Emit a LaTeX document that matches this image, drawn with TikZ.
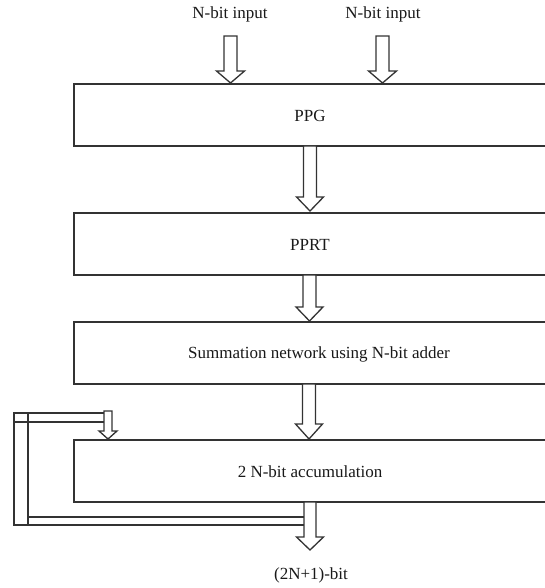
\documentclass[tikz,border=0pt]{standalone}
\usepackage{fontspec}
\setmainfont{Liberation Serif}
\usetikzlibrary{calc}
\definecolor{ink}{HTML}{333333}
\tikzset{
  ln/.style={draw=ink, line width=1.3pt, line join=miter},
  box/.style={ln, rectangle, inner sep=0pt, minimum width=473pt, minimum height=62pt},
  lbl/.style={text=black!90, inner sep=0pt, font=\fontsize{17}{20}\selectfont},
  barrow/.style={ln, fill=white},
}
% block arrow: #1 top coordinate, #2 tip coordinate, #3 shaft half width, #4 head half width, #5 head length
\newcommand\blockarr[5]{%
  \draw[barrow] let \p1=#1, \p2=#2 in
    (\x1-#3pt,\y1) -- (\x1-#3pt,\y2+#5pt) -- (\x1-#4pt,\y2+#5pt) -- (\x2,\y2)
    -- (\x1+#4pt,\y2+#5pt) -- (\x1+#3pt,\y2+#5pt) -- (\x1+#3pt,\y1) -- cycle;}
\begin{document}
\begin{tikzpicture}[x=1pt,y=-1pt]
\clip (0,0) rectangle (545,588);
\fill[white] (0,0) rectangle (545,588);
% boxes
\node[box] (ppg)  at (310.5,115) {};
\node[box] (pprt) at (310.5,244) {};
\node[box] (sum)  at (310.5,353) {};
\node[box] (acc)  at (310.5,471) {};
\node[lbl] (ppgt)  at (310,116) {PPG};
\node[lbl] (pprtt) at (310,245) {PPRT};
\node[lbl] (sumt)  at (319,354) {Summation network using N-bit adder};
\node[lbl] (acct)  at (310,472) {2 N-bit accumulation};
% labels
\node[lbl] (in1) at (230,14) {N-bit input};
\node[lbl] (in2) at (383,14) {N-bit input};
\node[lbl] (out) at (311,575) {(2N+1)-bit};
% arrow end points
\coordinate (a1s) at (230.5,36);  \coordinate (a1t) at (230.5,83);
\coordinate (a2s) at (382.5,36);  \coordinate (a2t) at (382.5,83);
\coordinate (b1s) at (310,146);   \coordinate (b1t) at (310,211);
\coordinate (b2s) at (309.5,275); \coordinate (b2t) at (309.5,321);
\coordinate (b3s) at (309,384);   \coordinate (b3t) at (309,439);
\coordinate (os)  at (310,502);   \coordinate (ot)  at (310,550);
\coordinate (fs)  at (108,411);   \coordinate (ft)  at (108,439);
% feedback loop
\draw[ln] (14,413) rectangle (28,525);
\draw[ln] (14,413) -- (104,413);
\draw[ln] (14,422) -- (104,422);
\draw[ln] (28,517) -- (304,517);
\draw[ln] (14,525) -- (304,525);
% block arrows
\blockarr{(a1s)}{(a1t)}{6.5}{14}{12}
\blockarr{(a2s)}{(a2t)}{6.5}{14}{12}
\blockarr{(b1s)}{(b1t)}{6.5}{13.5}{14}
\blockarr{(b2s)}{(b2t)}{6.5}{13.5}{14}
\blockarr{(b3s)}{(b3t)}{6.5}{13.5}{15}
\blockarr{(os)}{(ot)}{6}{13.5}{13}
\blockarr{(fs)}{(ft)}{4}{9}{8}
\end{tikzpicture}
\end{document}
